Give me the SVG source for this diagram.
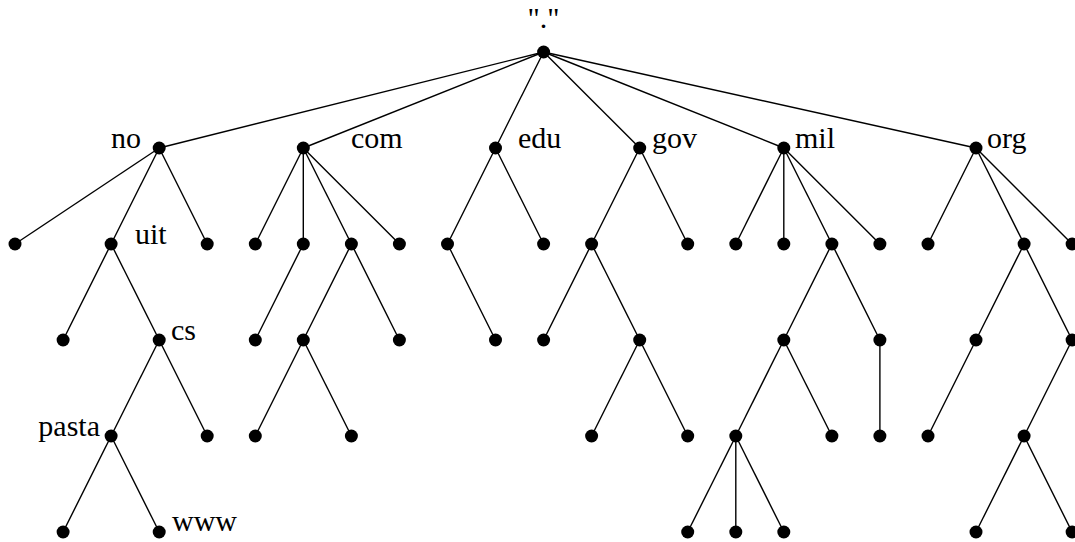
<svg xmlns="http://www.w3.org/2000/svg" width="1075" height="542" viewBox="0 0 1075 542">
  <style>
    .e { stroke: #000; stroke-width: 1.4; fill: none; }
    .n { fill: #000; }
    .lbl { font-family: "Liberation Serif", "Times New Roman", serif; font-size: 30px; fill: #000; }
  </style>
  <defs>
    <circle id="dot" r="6.5" class="n"/>
  </defs>
  <rect width="1075" height="542" fill="#fff"/>

  <!-- tree edges -->
  <g id="connectors">
    <!-- root to top-level domains -->
    <line class="e" x1="543.6" y1="52" x2="159.2" y2="148"/>
    <line class="e" x1="543.6" y1="52" x2="303.3" y2="148"/>
    <line class="e" x1="543.6" y1="52" x2="495.5" y2="148"/>
    <line class="e" x1="543.6" y1="52" x2="639.7" y2="148"/>
    <line class="e" x1="543.6" y1="52" x2="783.8" y2="148"/>
    <line class="e" x1="543.6" y1="52" x2="976" y2="148"/>
    <!-- no -->
    <line class="e" x1="159.2" y1="148" x2="15" y2="244"/>
    <line class="e" x1="159.2" y1="148" x2="111.1" y2="244"/>
    <line class="e" x1="159.2" y1="148" x2="207.2" y2="244"/>
    <!-- com -->
    <line class="e" x1="303.3" y1="148" x2="255.3" y2="244"/>
    <line class="e" x1="303.3" y1="148" x2="303.3" y2="244"/>
    <line class="e" x1="303.3" y1="148" x2="351.4" y2="244"/>
    <line class="e" x1="303.3" y1="148" x2="399.4" y2="244"/>
    <!-- edu -->
    <line class="e" x1="495.5" y1="148" x2="447.5" y2="244"/>
    <line class="e" x1="495.5" y1="148" x2="543.6" y2="244"/>
    <!-- gov -->
    <line class="e" x1="639.7" y1="148" x2="591.6" y2="244"/>
    <line class="e" x1="639.7" y1="148" x2="687.7" y2="244"/>
    <!-- mil -->
    <line class="e" x1="783.8" y1="148" x2="735.8" y2="244"/>
    <line class="e" x1="783.8" y1="148" x2="783.8" y2="244"/>
    <line class="e" x1="783.8" y1="148" x2="831.9" y2="244"/>
    <line class="e" x1="783.8" y1="148" x2="879.9" y2="244"/>
    <!-- org -->
    <line class="e" x1="976" y1="148" x2="928" y2="244"/>
    <line class="e" x1="976" y1="148" x2="1024.1" y2="244"/>
    <line class="e" x1="976" y1="148" x2="1072.1" y2="244"/>
    <!-- third level -->
    <line class="e" x1="111.1" y1="244" x2="63.1" y2="340"/>
    <line class="e" x1="111.1" y1="244" x2="159.2" y2="340"/>
    <line class="e" x1="303.3" y1="244" x2="255.3" y2="340"/>
    <line class="e" x1="351.4" y1="244" x2="303.3" y2="340"/>
    <line class="e" x1="351.4" y1="244" x2="399.4" y2="340"/>
    <line class="e" x1="447.5" y1="244" x2="495.5" y2="340"/>
    <line class="e" x1="591.6" y1="244" x2="543.6" y2="340"/>
    <line class="e" x1="591.6" y1="244" x2="639.7" y2="340"/>
    <line class="e" x1="831.9" y1="244" x2="783.8" y2="340"/>
    <line class="e" x1="831.9" y1="244" x2="879.9" y2="340"/>
    <line class="e" x1="1024.1" y1="244" x2="976" y2="340"/>
    <line class="e" x1="1024.1" y1="244" x2="1072.1" y2="340"/>
    <!-- fourth level -->
    <line class="e" x1="159.2" y1="340" x2="111.1" y2="436"/>
    <line class="e" x1="159.2" y1="340" x2="207.2" y2="436"/>
    <line class="e" x1="303.3" y1="340" x2="255.3" y2="436"/>
    <line class="e" x1="303.3" y1="340" x2="351.4" y2="436"/>
    <line class="e" x1="639.7" y1="340" x2="591.6" y2="436"/>
    <line class="e" x1="639.7" y1="340" x2="687.7" y2="436"/>
    <line class="e" x1="783.8" y1="340" x2="735.8" y2="436"/>
    <line class="e" x1="783.8" y1="340" x2="831.9" y2="436"/>
    <line class="e" x1="879.9" y1="340" x2="879.9" y2="436"/>
    <line class="e" x1="976" y1="340" x2="928" y2="436"/>
    <line class="e" x1="1072.1" y1="340" x2="1024.1" y2="436"/>
    <!-- fifth level -->
    <line class="e" x1="111.1" y1="436" x2="63.1" y2="532"/>
    <line class="e" x1="111.1" y1="436" x2="159.2" y2="532"/>
    <line class="e" x1="735.8" y1="436" x2="687.7" y2="532"/>
    <line class="e" x1="735.8" y1="436" x2="735.8" y2="532"/>
    <line class="e" x1="735.8" y1="436" x2="783.8" y2="532"/>
    <line class="e" x1="1024.1" y1="436" x2="976" y2="532"/>
    <line class="e" x1="1024.1" y1="436" x2="1072.1" y2="532"/>
  </g>

  <!-- root -->
  <g id="root"><use href="#dot" x="543.6" y="52"/><text class="lbl" x="543.6" y="28" text-anchor="middle">"."</text></g>

  <!-- top-level domains -->
  <g id="no"><use href="#dot" x="159.2" y="148"/><text class="lbl" x="141" y="148" text-anchor="end">no</text></g>
  <g id="com"><use href="#dot" x="303.3" y="148"/><text class="lbl" x="351" y="148">com</text></g>
  <g id="edu"><use href="#dot" x="495.5" y="148"/><text class="lbl" x="518" y="148">edu</text></g>
  <g id="gov"><use href="#dot" x="639.7" y="148"/><text class="lbl" x="652" y="148">gov</text></g>
  <g id="mil"><use href="#dot" x="783.8" y="148"/><text class="lbl" x="795" y="148">mil</text></g>
  <g id="org"><use href="#dot" x="976" y="148"/><text class="lbl" x="987" y="148">org</text></g>

  <!-- second level -->
  <g id="n2-0"><use href="#dot" x="15" y="244"/></g>
  <g id="uit"><use href="#dot" x="111.1" y="244"/><text class="lbl" x="135" y="244">uit</text></g>
  <g id="n2-4"><use href="#dot" x="207.2" y="244"/></g>
  <g id="n2-5"><use href="#dot" x="255.3" y="244"/></g>
  <g id="n2-6"><use href="#dot" x="303.3" y="244"/></g>
  <g id="n2-7"><use href="#dot" x="351.4" y="244"/></g>
  <g id="n2-8"><use href="#dot" x="399.4" y="244"/></g>
  <g id="n2-9"><use href="#dot" x="447.5" y="244"/></g>
  <g id="n2-11"><use href="#dot" x="543.6" y="244"/></g>
  <g id="n2-12"><use href="#dot" x="591.6" y="244"/></g>
  <g id="n2-14"><use href="#dot" x="687.7" y="244"/></g>
  <g id="n2-15"><use href="#dot" x="735.8" y="244"/></g>
  <g id="n2-16"><use href="#dot" x="783.8" y="244"/></g>
  <g id="n2-17"><use href="#dot" x="831.9" y="244"/></g>
  <g id="n2-18"><use href="#dot" x="879.9" y="244"/></g>
  <g id="n2-19"><use href="#dot" x="928" y="244"/></g>
  <g id="n2-21"><use href="#dot" x="1024.1" y="244"/></g>
  <g id="n2-22"><use href="#dot" x="1072.1" y="244"/></g>

  <!-- third level -->
  <g id="n3-1"><use href="#dot" x="63.1" y="340"/></g>
  <g id="cs"><use href="#dot" x="159.2" y="340"/><text class="lbl" x="171" y="340">cs</text></g>
  <g id="n3-5"><use href="#dot" x="255.3" y="340"/></g>
  <g id="n3-6"><use href="#dot" x="303.3" y="340"/></g>
  <g id="n3-8"><use href="#dot" x="399.4" y="340"/></g>
  <g id="n3-10"><use href="#dot" x="495.5" y="340"/></g>
  <g id="n3-11"><use href="#dot" x="543.6" y="340"/></g>
  <g id="n3-13"><use href="#dot" x="639.7" y="340"/></g>
  <g id="n3-16"><use href="#dot" x="783.8" y="340"/></g>
  <g id="n3-18"><use href="#dot" x="879.9" y="340"/></g>
  <g id="n3-20"><use href="#dot" x="976" y="340"/></g>
  <g id="n3-22"><use href="#dot" x="1072.1" y="340"/></g>

  <!-- fourth level -->
  <g id="pasta"><use href="#dot" x="111.1" y="436"/><text class="lbl" x="100" y="436" text-anchor="end">pasta</text></g>
  <g id="n4-4"><use href="#dot" x="207.2" y="436"/></g>
  <g id="n4-5"><use href="#dot" x="255.3" y="436"/></g>
  <g id="n4-7"><use href="#dot" x="351.4" y="436"/></g>
  <g id="n4-12"><use href="#dot" x="591.6" y="436"/></g>
  <g id="n4-14"><use href="#dot" x="687.7" y="436"/></g>
  <g id="n4-15"><use href="#dot" x="735.8" y="436"/></g>
  <g id="n4-17"><use href="#dot" x="831.9" y="436"/></g>
  <g id="n4-18"><use href="#dot" x="879.9" y="436"/></g>
  <g id="n4-19"><use href="#dot" x="928" y="436"/></g>
  <g id="n4-21"><use href="#dot" x="1024.1" y="436"/></g>

  <!-- fifth level -->
  <g id="n5-1"><use href="#dot" x="63.1" y="532"/></g>
  <g id="www"><use href="#dot" x="159.2" y="532"/><text class="lbl" x="172" y="531">www</text></g>
  <g id="n5-14"><use href="#dot" x="687.7" y="532"/></g>
  <g id="n5-15"><use href="#dot" x="735.8" y="532"/></g>
  <g id="n5-16"><use href="#dot" x="783.8" y="532"/></g>
  <g id="n5-20"><use href="#dot" x="976" y="532"/></g>
  <g id="n5-22"><use href="#dot" x="1072.1" y="532"/></g>
</svg>
